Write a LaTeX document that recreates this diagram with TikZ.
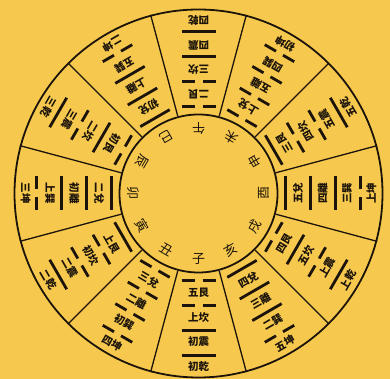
\documentclass[tikz,border=0pt]{standalone}
\usepackage{fontspec}
\newfontfamily\cjk{Noto Sans CJK TC}
\usepackage{tikz}
\usetikzlibrary{calc}
\definecolor{njyellow}{RGB}{246,201,78}
\definecolor{njink}{RGB}{28,20,10}

\begin{document}
\begin{tikzpicture}[x=1pt, y=1pt,
  ring/.style={circle, draw=njink, line width=1.8pt, inner sep=0pt},
  spoke/.style={draw=njink, line width=1.3pt},
  yang/.style={draw=njink, line width=2.8pt},
  yin/.style={yang, dash pattern=on 13pt off 8pt on 13pt off 0pt},
  branch/.style={font=\cjk\fontsize{13}{13}\selectfont, text=njink, inner sep=0pt},
  yaotext/.style={font=\cjk\bfseries\fontsize{10.5}{10.5}\selectfont, text=njink, inner sep=0pt, transform shape}]

\fill[njyellow] (-198.5,-185.5) rectangle (191.5,193.5);
\useasboundingbox (-198.5,-185.5) rectangle (191.5,193.5);

\node[ring, minimum size=368pt] (outer) at (0,0) {};
\node[ring, minimum size=158pt] (inner) at (0,0) {};

% twelve sectors
\foreach \a in {15,45,...,345}
  \draw[spoke] (inner.\a) -- (outer.\a);

% branch / yao lines, inner to outer
\foreach \ang/\br/\yao [count=\k] in {
    90/午/{yin/二艮,yin/三坎,yang/四震,yang/四乾},
    60/未/{yin/上兌,yin/五離,yin/四巽,yin/初坤},
    30/申/{yang/三艮,yin/四坎,yin/五震,yang/五乾},
    0/酉/{yang/五兌,yang/四離,yang/三巽,yin/上坤},
    -30/戌/{yin/四艮,yang/五坎,yin/上震,yang/上乾},
    -60/亥/{yang/四兌,yang/三離,yang/二巽,yin/五坤},
    -90/子/{yin/五艮,yin/上坎,yang/初震,yang/初乾},
    -120/丑/{yin/三兌,yin/二離,yin/初巽,yin/四坤},
    -150/寅/{yang/上艮,yin/初坎,yin/二震,yang/二乾},
    180/卯/{yang/二兌,yang/初離,yang/上巽,yin/三坤},
    150/辰/{yin/初艮,yang/二坎,yin/三震,yang/三乾},
    120/巳/{yang/初兌,yang/上離,yang/五巽,yin/二坤}}
{
  \node[branch, rotate=\ang+90] (br\k) at (\ang:65) {\br};
  \begin{scope}[rotate=\ang+90]
    \foreach \kind/\lab [count=\i from 0] in \yao {
      \pgfmathsetmacro\rl{87+25*\i}
      \pgfmathsetmacro\rt{99.5+24.5*\i}
      \draw[\kind] (-17,-\rl) -- (17,-\rl);
      \node[yaotext] (yao\k-\i) at (0,-\rt) {\lab};
    }
  \end{scope}
}

\end{tikzpicture}
\end{document}
